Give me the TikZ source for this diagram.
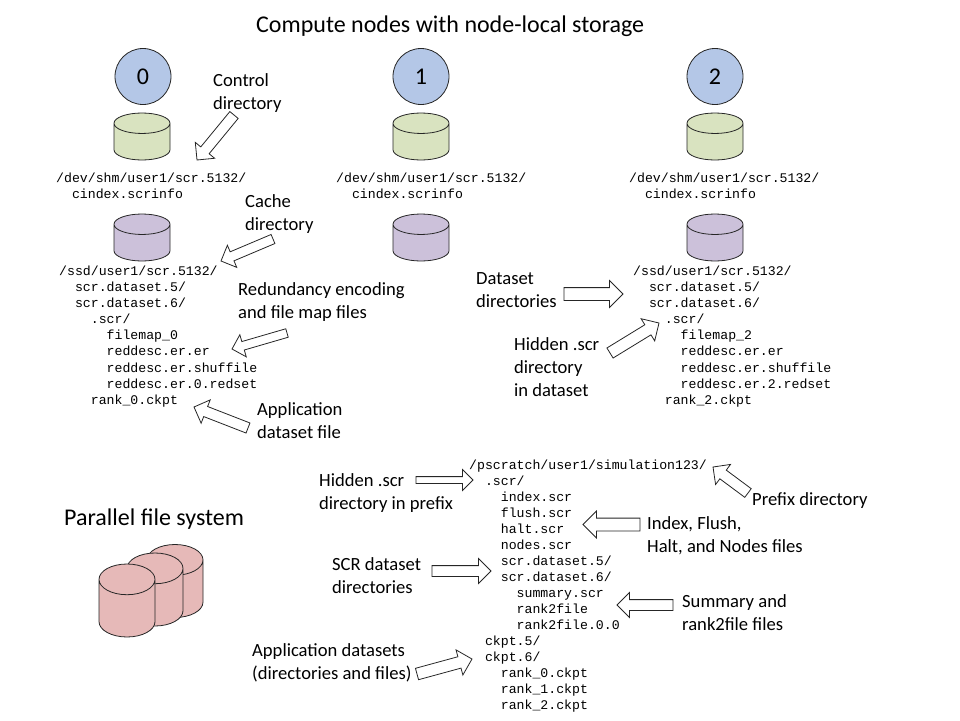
\documentclass[tikz,border=0pt]{standalone}
\usepackage{fontspec}
\setmainfont{Carlito}
\setmonofont{Liberation Mono}
\usetikzlibrary{calc,positioning,shapes.arrows,shapes.geometric}
\definecolor{nodeblue}{HTML}{B4C7E7}
\definecolor{ctrlgreen}{HTML}{D9E3C0}
\definecolor{ssdpurple}{HTML}{CCC1DA}
\definecolor{pfspink}{HTML}{E6B9B8}
\newcommand{\ind}[1]{\hspace*{#1em}}
\newcommand{\blockto}[4][]{\path let \p1=($#4-#3$), \n1={veclen(\x1,\y1)} in #3 -- node[blockarrow, pos=0, anchor=tail, minimum height=\n1, #1] (#2) {} #4;}
\tikzset{
  rank/.style={draw=black!85, fill=nodeblue, circle, minimum size=56pt, inner sep=0pt, line width=.8pt, font={\fontsize{24}{24}\selectfont}},
  drum/.style={draw=black!85, cylinder, shape border rotate=90, shape aspect=1.6, inner sep=6.4pt, minimum width=56pt, minimum height=47pt, outer sep=0pt, line width=.8pt, anchor=shape center},
  bigdrum/.style={drum, shape aspect=2.4, minimum height=73pt, fill=pfspink},
  listing/.style={anchor=west, align=left, inner sep=0pt, font={\ttfamily\fontsize{13.2}{16.05}\selectfont}},
  label/.style={anchor=west, align=left, inner sep=0pt, font={\fontsize{18.6}{23}\selectfont}},
  heading/.style={anchor=west, inner sep=0pt, font={\fontsize{24}{28}\selectfont}},
  blockarrow/.style={draw=black!85, fill=white, single arrow, sloped, allow upside down, minimum width=22pt, inner sep=5pt, outer sep=0pt, text width=0pt, text height=0pt, text depth=0pt, single arrow tip angle=90, line width=.8pt},
  thinarrow/.style={minimum width=14pt, inner sep=3pt},
  widearrow/.style={minimum width=26pt, inner sep=6pt}
}
\begin{document}
\begin{tikzpicture}[x=1pt, y=-1pt]
\useasboundingbox (0,0) rectangle (960,720);
\node[heading] (title) at (256,26) {Compute nodes with node-local storage};
\node[rank] (rank0) at (143,76.5) {0};
\node[rank] (rank1) at (421,76.5) {1};
\node[rank] (rank2) at (715,76.5) {2};
\node[drum, fill=ctrlgreen] (ctrl0) at (142,136.5) {};
\node[drum, fill=ctrlgreen] (ctrl1) at (421,136.5) {};
\node[drum, fill=ctrlgreen] (ctrl2) at (715,136.5) {};
\node[drum, fill=ssdpurple] (ssd0) at (142,237.5) {};
\node[drum, fill=ssdpurple] (ssd1) at (421,237.5) {};
\node[drum, fill=ssdpurple] (ssd2) at (715,237.5) {};
\node[listing] (ctrllist0) at (56,185.5) {/dev/shm/user1/scr.5132/\\\ind{1.2}cindex.scrinfo};
\node[listing] (ctrllist1) at (336,185.5) {/dev/shm/user1/scr.5132/\\\ind{1.2}cindex.scrinfo};
\node[listing] (ctrllist2) at (629,185.5) {/dev/shm/user1/scr.5132/\\\ind{1.2}cindex.scrinfo};
\node[listing] (ssdlist0) at (59,336.5) {/ssd/user1/scr.5132/\\\ind{1.2}scr.dataset.5/\\\ind{1.2}scr.dataset.6/\\\ind{2.4}.scr/\\\ind{3.6}filemap\_0\\\ind{3.6}reddesc.er.er\\\ind{3.6}reddesc.er.shuffile\\\ind{3.6}reddesc.er.0.redset\\\ind{2.4}rank\_0.ckpt};
\node[listing] (ssdlist2) at (633,336.5) {/ssd/user1/scr.5132/\\\ind{1.2}scr.dataset.5/\\\ind{1.2}scr.dataset.6/\\\ind{2.4}.scr/\\\ind{3.6}filemap\_2\\\ind{3.6}reddesc.er.er\\\ind{3.6}reddesc.er.shuffile\\\ind{3.6}reddesc.er.2.redset\\\ind{2.4}rank\_2.ckpt};
\node[listing] (pfslist) at (469,586) {/pscratch/user1/simulation123/\\\ind{1.2}.scr/\\\ind{2.4}index.scr\\\ind{2.4}flush.scr\\\ind{2.4}halt.scr\\\ind{2.4}nodes.scr\\\ind{2.4}scr.dataset.5/\\\ind{2.4}scr.dataset.6/\\\ind{3.6}summary.scr\\\ind{3.6}rank2file\\\ind{3.6}rank2file.0.0\\\ind{1.2}ckpt.5/\\\ind{1.2}ckpt.6/\\\ind{2.4}rank\_0.ckpt\\\ind{2.4}rank\_1.ckpt\\\ind{2.4}rank\_2.ckpt};
\node[label] (ctrllabel) at (213,93) {Control\\directory};
\node[label] (cachelabel) at (245,214.5) {Cache\\directory};
\node[label] (redlabel) at (238,302) {Redundancy encoding\\and file map files};
\node[label] (applabel) at (257,420.5) {Application\\dataset file};
\node[label] (datasetlabel) at (476,290.5) {Dataset\\directories};
\node[label] (hiddenlabel) at (514,367) {Hidden .scr\\directory\\in dataset};
\node[label] (prefixhidden) at (319,493) {Hidden .scr\\directory in prefix};
\node[label] (prefixlabel) at (752,500.5) {Prefix directory};
\node[label] (indexlabel) at (647,535.5) {Index, Flush,\\Halt, and Nodes files};
\node[label] (scrlabel) at (332,575.5) {SCR dataset\\directories};
\node[label] (summarylabel) at (682,612.5) {Summary and\\rank2file files};
\node[label] (appdatalabel) at (252,663) {Application datasets\\(directories and files)};
\node[heading] (pfstitle) at (64,519) {Parallel file system};
\node[bigdrum] (pfs2) at (175,581) {};
\node[bigdrum] (pfs1) at (155,589.5) {};
\node[bigdrum] (pfs0) at (127,600.5) {};
\blockto{ctrlarrow}{(234,115)}{(197,160)}
\blockto[inner sep=4.5pt]{cachearrow}{(273,239)}{(221,261)}
\blockto[inner sep=4pt, minimum width=20pt]{redarrow}{(287,333)}{(232,349)}
\blockto{apparrow}{(248,428)}{(194,407)}
\blockto[inner sep=6pt]{datasetarrow}{(564,294)}{(623,294)}
\blockto[inner sep=5.5pt]{hiddenarrow}{(610,353)}{(659,323)}
\blockto[thinarrow]{prefixhiddenarrow}{(416,480)}{(473,480)}
\blockto{prefixarrow}{(748,493)}{(713,467)}
\blockto[widearrow]{indexarrow}{(640,524.5)}{(583,524.5)}
\blockto{scrarrow}{(432,571)}{(491,571)}
\blockto{summaryarrow}{(673,605)}{(617,605)}
\blockto[inner sep=5.5pt, minimum width=24pt]{appdataarrow}{(417,674)}{(472,659)}
\end{tikzpicture}
\end{document}
